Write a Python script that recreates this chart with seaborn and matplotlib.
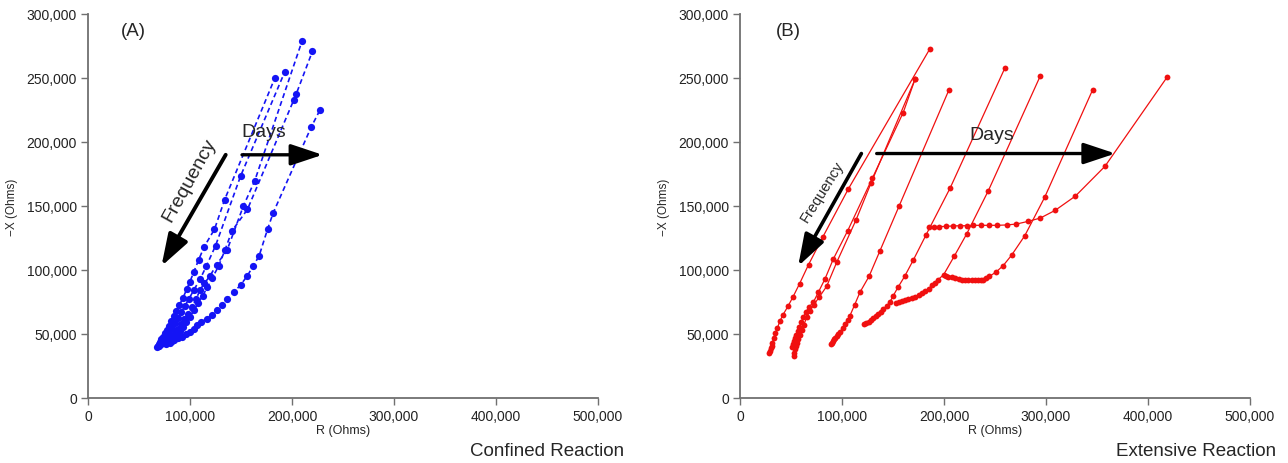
import numpy as np
import pandas as pd
import matplotlib
matplotlib.use("Agg")
import matplotlib.pyplot as plt
import seaborn as sns

# Nyquist data, values in kOhm (R, -X)
# (A) confined reaction - blue dashed
a_curves = {
    "A1": ([67.5, 68.5, 69.5, 70.5, 72, 73.5, 75, 77, 79, 81.5, 84, 86.5, 89.5, 93, 97, 100, 103.6, 108.5, 114, 124, 134, 183.2],
           [39.5, 41, 42.5, 44, 46, 48, 50.5, 53.5, 56.5, 60, 64, 68, 72.5, 78, 85.3, 91, 98.2, 108, 118.3, 131.8, 155, 250]),
    "A2": ([70, 71.5, 73, 75, 77, 79.5, 82, 85, 88, 91.5, 95, 99, 103.5, 110, 116, 125, 149.7, 193],
           [40.5, 42, 43.5, 45.5, 48, 51, 54.5, 58.5, 62.5, 67, 72, 77.5, 84, 93, 103, 118.9, 173.6, 255]),
    "A3": ([76, 78, 80, 82.5, 85, 88, 91, 94.5, 98, 102, 106, 109.5, 114, 119.4, 126, 136.5, 152.3, 163.5, 209.9],
           [42, 43.5, 45.5, 48, 50.5, 54, 57.5, 61.5, 66, 71, 77, 84, 89.5, 95.1, 104, 115.8, 149.9, 169.8, 279]),
    "A4": ([80, 82, 84.5, 87, 90, 93, 96.5, 100, 104, 108, 112.5, 117, 122, 128, 134.5, 141.1, 156.3, 201.6, 204, 220],
           [43, 44.5, 46.5, 49, 52, 55.5, 59.5, 63.5, 68.5, 74, 80, 86.5, 94, 103, 116, 130.5, 147.3, 232.6, 237.2, 270.8]),
    "A5": ([84, 88, 92, 96, 100.3, 103.5, 106.9, 111, 116.8, 121.5, 126.6, 131.5, 136.5, 143, 149.7, 156.3, 162.2, 167.8, 176, 181.6, 218.8, 227.6],
           [45, 46.5, 48, 49.8, 51.7, 54, 56.8, 59.5, 62, 65, 68.5, 73, 77.5, 82.7, 88.4, 95.6, 103.4, 111.1, 131.8, 144.7, 211.6, 225.3]),
}

# (B) extensive reaction - red solid
b_curves = {
    "B1": ([28.6, 29.4, 30.2, 31.0, 31.8, 33.1, 34.7, 36.7, 39.0, 42.2, 47.0, 51.9, 58.4, 67.2, 81.2, 106.2, 186.0],
           [35.2, 37.0, 39.0, 41.0, 43.0, 46.9, 50.8, 54.7, 59.9, 65.1, 71.6, 78.9, 89.3, 104.2, 125.8, 163.3, 272.6]),
    "B2": ([50.5, 51.5, 52.5, 53.7, 55, 56.5, 58.2, 60, 62, 64.5, 67.5, 71.9, 76.8, 83.3, 91.5, 105.6, 129.7, 160, 171.6],
           [39.5, 42, 44.5, 47, 49.5, 52.5, 55.5, 59, 63, 67, 71, 74.8, 82.6, 93, 108.6, 130.7, 171.6, 223, 249]),
    "B3": ([52.6, 53.3, 54, 55, 56, 57.3, 58.8, 60.5, 62.5, 65.4, 68.6, 72.5, 77.8, 85, 94.8, 113.7, 128.5, 171.6],
           [33, 35.5, 38, 40.5, 43, 46, 49.5, 53, 57, 63, 68.2, 73, 79, 87.3, 106, 139, 168, 249]),
    "B4": ([89, 90, 91, 92.2, 93.5, 95, 96.5, 98, 100.5, 103, 105.5, 107.8, 112.5, 117.6, 126.5, 137, 156, 205],
           [42.2, 43.3, 44.5, 45.8, 47.2, 48.8, 50, 51.3, 54.5, 57.8, 61, 64.3, 73, 82.6, 95, 114.6, 150, 241]),
    "B5": ([122, 124, 126, 128, 130.5, 133, 135.5, 138, 140.5, 143.8, 147, 150.3, 154.9, 161.4, 169.8, 182.5, 206, 259.8],
           [57.5, 58.5, 59.7, 61, 62.5, 64, 65.7, 67.5, 69.5, 72, 75, 80, 86.5, 95, 107.6, 127.6, 164, 258]),
    "B6": ([152.6, 156, 159, 162, 165, 168.8, 172, 175, 178.6, 181.5, 185, 188.3, 191, 194.2, 199.7, 210, 222.4, 243.5, 294.5],
           [74.2, 74.8, 75.5, 76.3, 77.1, 78, 79, 80.3, 82, 83.6, 85.5, 88, 90.2, 92.4, 96.4, 110.7, 128.4, 162, 251.8]),
    "B7": ([201.5, 204, 207.8, 211, 214.3, 217.5, 220.8, 224, 227.3, 230.5, 233.8, 236.3, 238.6, 241.5, 244.5, 251, 258, 266.2, 279.2, 298.7, 345.8],
           [95, 94.6, 94.3, 93.6, 93, 92.5, 92.2, 92, 91.9, 91.9, 91.9, 92.1, 92.4, 93.5, 95, 98.4, 103.4, 111.5, 126.8, 156.8, 240.9]),
    "B8": ([185, 190, 195.5, 202, 208.4, 215.3, 222.4, 228.9, 236, 244, 252.3, 261.4, 271, 282.5, 294.5, 309, 328.9, 357.8, 419],
           [133.3, 133.9, 133.9, 134.1, 134.4, 134.6, 134.6, 134.9, 134.9, 134.9, 134.9, 135.2, 135.9, 138, 140.6, 146.6, 157.8, 181, 251]),
}

x_ticks = [0, 100000, 200000, 300000, 400000, 500000]
y_ticks = [0, 50000, 100000, 150000, 200000, 250000, 300000]


def to_frame(curves):
    rows = []
    for name, (xs, ys) in curves.items():
        for x, y in zip(xs, ys):
            rows.append((name, x * 1000, y * 1000))
    return pd.DataFrame(rows, columns=["curve", "R", "X"])


df_a = to_frame(a_curves)
df_b = to_frame(b_curves)

sns.set_theme(style="white")
plt.rcParams["font.family"] = ["Liberation Sans", "DejaVu Sans"]

fig = plt.figure(figsize=(12.88, 4.64), dpi=100)
ax_a = fig.add_axes([88 / 1288, 65 / 464, 510 / 1288, 384 / 464])
ax_b = fig.add_axes([740 / 1288, 65 / 464, 510 / 1288, 384 / 464])

for name in a_curves:
    sub = df_a[df_a["curve"] == name]
    sns.lineplot(data=sub, x="R", y="X", sort=False, estimator=None, ax=ax_a,
                 color="#1414f5", lw=1.2, ls=(0, (3, 2)), marker="o", ms=5.2,
                 mec="#1414f5", mew=0)

for name in b_curves:
    sub = df_b[df_b["curve"] == name]
    sns.lineplot(data=sub, x="R", y="X", sort=False, estimator=None, ax=ax_b,
                 color="#f01010", lw=0.9, marker="o", ms=4.2,
                 mec="#f01010", mew=0)

for ax in (ax_a, ax_b):
    ax.set_xlim(0, 500000)
    ax.set_ylim(0, 300000)
    ax.set_xticks(x_ticks)
    ax.set_yticks(y_ticks)
    ax.set_xticklabels([f"{v:,}" for v in x_ticks])
    ax.set_yticklabels([f"{v:,}" for v in y_ticks])
    ax.tick_params(axis="both", which="major", direction="out", length=5,
                   width=1, color="#707070", labelsize=10, labelcolor="#222222",
                   bottom=True, left=True, pad=3)
    for s in ("top", "right"):
        ax.spines[s].set_visible(False)
    for s in ("left", "bottom"):
        ax.spines[s].set_color("#707070")
        ax.spines[s].set_linewidth(1.3)
    ax.set_xlabel("R (Ohms)", fontsize=9, labelpad=1)
    ax.set_ylabel("\u2212X (Ohms)", fontsize=8.5, labelpad=6)
    ax.grid(False)
    ax.set_facecolor("white")

arrow_kw = dict(arrowstyle="-|>,head_length=0.75,head_width=0.25", color="black",
                shrinkA=0, shrinkB=0, mutation_scale=26)

# panel A annotations
ax_a.text(32000, 287000, "(A)", fontsize=13.5, ha="left", va="center")
ax_a.annotate("", xy=(72000, 103000), xytext=(135000, 190000),
              arrowprops=dict(lw=2.8, **arrow_kw))
ax_a.text(99000, 171000, "Frequency", fontsize=14, rotation=61,
          ha="center", va="center")
ax_a.annotate("", xy=(230000, 190000), xytext=(151000, 190000),
              arrowprops=dict(lw=2.4, **arrow_kw))
ax_a.text(172000, 208000, "Days", fontsize=14, ha="center", va="center")

# panel B annotations
ax_b.text(35000, 287000, "(B)", fontsize=13.5, ha="left", va="center")
ax_b.annotate("", xy=(57000, 103000), xytext=(119000, 191000),
              arrowprops=dict(lw=2.6, **arrow_kw))
ax_b.text(81000, 162000, "Frequency", fontsize=10.5, rotation=58,
          ha="center", va="center")
ax_b.annotate("", xy=(368000, 191000), xytext=(134000, 191000),
              arrowprops=dict(lw=2.4, **arrow_kw))
ax_b.text(247000, 206000, "Days", fontsize=14, ha="center", va="center")

fig.text(624 / 1288, 1 - 452 / 464, "Confined Reaction", fontsize=13.5,
         ha="right", va="center")
fig.text(1276 / 1288, 1 - 452 / 464, "Extensive Reaction", fontsize=13.5,
         ha="right", va="center")

fig.savefig("out.png", dpi=100, facecolor="white")
